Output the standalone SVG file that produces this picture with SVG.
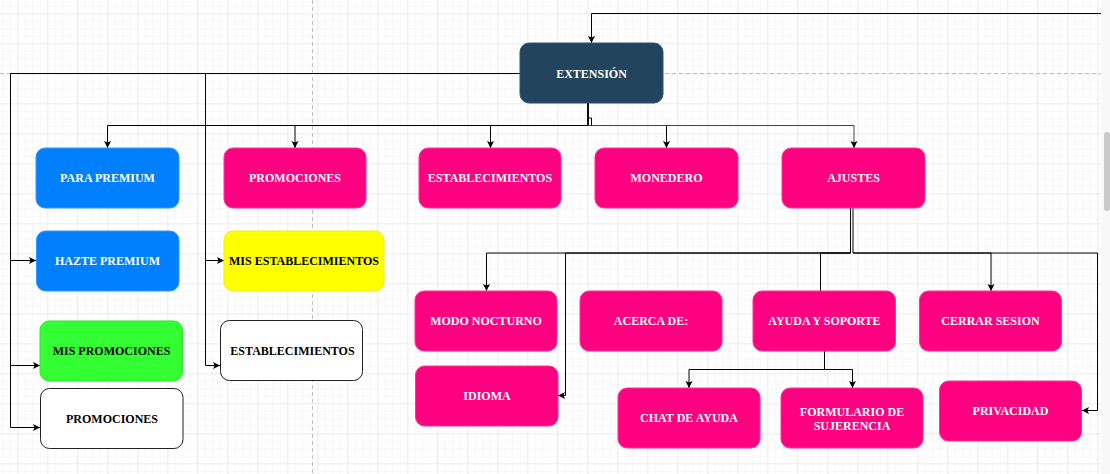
<svg xmlns="http://www.w3.org/2000/svg" width="1110" height="474" viewBox="0 0 1110 474">
<defs>
<pattern id="minor" patternUnits="userSpaceOnUse" x="17.33" y="13.33" width="7.5" height="7.5">
<path d="M0,0 H7.5 M0,0 V7.5" stroke="#f2f2f2" stroke-width="1" fill="none"/>
</pattern>
<pattern id="major" patternUnits="userSpaceOnUse" x="17.33" y="13.33" width="30" height="30">
<path d="M0,0 H30 M0,0 V30" stroke="#e2e2e2" stroke-width="1" fill="none"/>
</pattern>
<marker id="arr" markerUnits="userSpaceOnUse" markerWidth="8" markerHeight="8" refX="7" refY="3.5" orient="auto">
<path d="M0,0 L7,3.5 L0,7 L1.6,3.5 z" fill="#000"/>
</marker>
</defs>
<style>
.n rect{rx:9;ry:9}
.t{font-family:"Liberation Serif","Times New Roman",serif;font-weight:bold;font-size:12px;text-anchor:middle}
.w{fill:#ffffff}
.k{fill:#000000}
.pink{fill:#FF0080;stroke:#FF3399;stroke-width:1}
.blue{fill:#007FFF;stroke:#3399FF;stroke-width:1}
.c path{fill:none;stroke:#000;stroke-width:1}
.c .a{marker-end:url(#arr)}
</style>
<rect x="0" y="0" width="1110" height="474" fill="#ffffff"/>
<rect x="0" y="0" width="1101" height="474" fill="url(#minor)"/>
<rect x="0" y="0" width="1101" height="474" fill="url(#major)"/>
<path d="M312.5,0 V474 M0,73.5 H1101" stroke="#bdbdbd" stroke-width="1" stroke-dasharray="4 3" fill="none"/>
<rect x="1101" y="0" width="9" height="474" fill="#f8f8f8"/>
<rect x="1104" y="132" width="6" height="79" rx="3" fill="#c9c9c9"/>

<g class="c" id="connectors">
<path class="a" d="M1101,13.5 H591.5 V43"/>
<path d="M520,73.5 H10.5 V427.5"/>
<path class="a" d="M10.5,427.5 H40"/>
<path class="a" d="M10.5,260.5 H36"/>
<path class="a" d="M10.5,365.5 H40"/>
<path class="a" d="M205.5,73.5 V365.5 H220"/>
<path class="a" d="M205.5,260.5 H224"/>
<path class="a" d="M588,103 V125.5 H107.5 V148"/>
<path class="a" d="M588,103 V125.5 H295 V148"/>
<path class="a" d="M588,103 V125.5 H490.5 V148"/>
<path class="a" d="M588,103 V125.5 H666.5 V148"/>
<path class="a" d="M588,125.5 H854 V148" style="stroke:#444"/>
<path d="M588,118 H591.5 V125.5"/>
<path class="a" d="M850.5,208 V253 H486.5 V291"/>
<path class="a" d="M853,208 V253 H991 V291"/>
<path d="M850.5,253 H820.5 V291"/>
<path class="a" d="M850.5,253 H565.5 V395.5 H558"/>
<path class="a" d="M853,253 H1097.5 V410.5 H1082"/>
<path class="a" d="M824.5,351 V369.5 H689 V388"/>
<path class="a" d="M824.5,369.5 H852.5 V388"/>
</g>

<g class="n" id="extension"><rect x="520" y="43" width="143" height="60" fill="#23445D" stroke="#2e5573"/><text class="t w" x="591.5" y="77.5">EXTENSIÓN</text></g>
<g class="n" id="para-premium"><rect class="blue" x="36" y="148" width="143" height="60"/><text class="t w" x="107.5" y="182">PARA PREMIUM</text></g>
<g class="n" id="promociones"><rect class="pink" x="224" y="148" width="142" height="60"/><text class="t w" x="295" y="182">PROMOCIONES</text></g>
<g class="n" id="establecimientos"><rect class="pink" x="419" y="148" width="142" height="60"/><text class="t w" x="490" y="182">ESTABLECIMIENTOS</text></g>
<g class="n" id="monedero"><rect class="pink" x="595" y="148" width="143" height="60"/><text class="t w" x="666.5" y="182">MONEDERO</text></g>
<g class="n" id="ajustes"><rect class="pink" x="782" y="148" width="143" height="60"/><text class="t w" x="853.5" y="182">AJUSTES</text></g>
<g class="n" id="hazte-premium"><rect class="blue" x="36.5" y="231" width="142.5" height="60"/><text class="t w" x="107.5" y="265">HAZTE PREMIUM</text></g>
<g class="n" id="mis-establecimientos"><rect x="224" y="231" width="160" height="60" fill="#FFFF00" stroke="#f0f000"/><text class="t k" x="304" y="265">MIS ESTABLECIMIENTOS</text></g>
<g class="n" id="mis-promociones"><rect x="40" y="321" width="142.5" height="60" fill="#33FF33" stroke="#2ee62e"/><text class="t k" x="111.5" y="355">MIS PROMOCIONES</text></g>
<g class="n" id="establecimientos-2"><rect x="220.5" y="320.5" width="142" height="60" fill="#ffffff" stroke="#222" stroke-width="1"/><text class="t k" x="292.5" y="355">ESTABLECIMIENTOS</text></g>
<g class="n" id="promociones-2"><rect x="40.5" y="388.5" width="142.5" height="60" fill="#ffffff" stroke="#222" stroke-width="1"/><text class="t k" x="112" y="422.5">PROMOCIONES</text></g>
<g class="n" id="modo-nocturno"><rect class="pink" x="415" y="291" width="142" height="60"/><text class="t w" x="486" y="325">MODO NOCTURNO</text></g>
<g class="n" id="acerca-de"><rect class="pink" x="580" y="291" width="142" height="60"/><text class="t w" x="651" y="325">ACERCA DE:</text></g>
<g class="n" id="ayuda-soporte"><rect class="pink" x="753" y="291" width="142.5" height="60"/><text class="t w" x="824.5" y="325">AYUDA Y SOPORTE</text></g>
<g class="n" id="cerrar-sesion"><rect class="pink" x="919.5" y="291" width="142" height="60"/><text class="t w" x="990.5" y="325">CERRAR SESION</text></g>
<g class="n" id="idioma"><rect class="pink" x="415.5" y="366" width="142.5" height="60"/><text class="t w" x="487" y="400">IDIOMA</text></g>
<g class="n" id="chat-ayuda"><rect class="pink" x="618" y="388" width="142" height="60"/><text class="t w" x="689" y="422">CHAT DE AYUDA</text></g>
<g class="n" id="formulario"><rect class="pink" x="781" y="388" width="142" height="60"/><text class="t w" x="852" y="416">FORMULARIO DE</text><text class="t w" x="852" y="430">SUJERENCIA</text></g>
<g class="n" id="privacidad"><rect class="pink" x="939.5" y="381" width="142" height="60"/><text class="t w" x="1010.5" y="415">PRIVACIDAD</text></g>
</svg>
